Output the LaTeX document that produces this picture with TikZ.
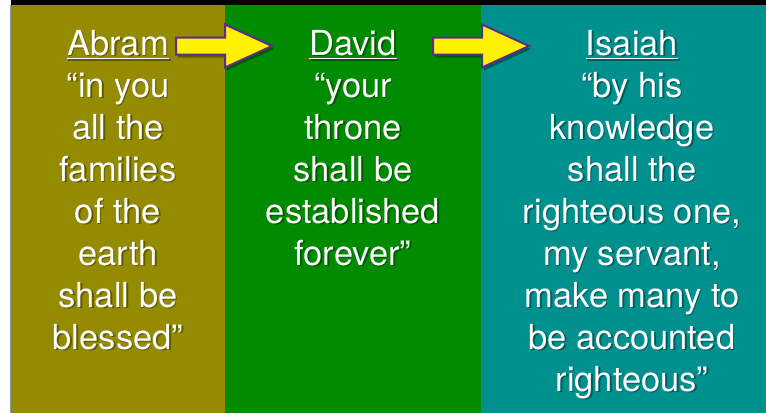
\documentclass[tikz,border=0pt]{standalone}
\usepackage{fontspec}
\setmainfont{TeX Gyre Heros}

\definecolor{abramcol}{HTML}{948B00}
\definecolor{davidcol}{HTML}{008B00}
\definecolor{isaiahcol}{HTML}{00908E}
\definecolor{arrowedge}{HTML}{5A2D8C}
\definecolor{edgeline}{HTML}{9096AE}

\tikzset{
  verse/.style={anchor=base, inner sep=0pt, text=white, font=\fontsize{34.5}{42}\selectfont},
  verseshadow/.style={verse, text=black, opacity=0.35},
  bigarrow/.pic={
    \path[fill=black, opacity=0.35, shift={(2,3)}]
      (0,-8.5) -- (49,-8.5) -- (49,-21.5) -- (96,0) -- (49,21.5) -- (49,8.5) -- (0,8.5) -- cycle;
    \draw[fill=yellow, draw=arrowedge, line width=2pt, line join=miter]
      (0,-8.5) -- (49,-8.5) -- (49,-21.5) -- (96,0) -- (49,21.5) -- (49,8.5) -- (0,8.5) -- cycle;
  }
}

\begin{document}
\begin{tikzpicture}[x=1pt,y=-1pt]
    \useasboundingbox (0,0) rectangle (766,413);
    \fill[white] (0,0) rectangle (766,413);
    \fill[black] (11,0) rectangle (766,5);
    \fill[abramcol] (11,5) rectangle (225,413);
    \fill[davidcol] (225,5) rectangle (481,413);
    \fill[isaiahcol] (481,5) rectangle (766,413);
    \draw[edgeline, line width=1pt] (10.5,5) -- (10.5,413);

    \foreach \t [count=\i from 0] in {Abram, “in you, all the, families, of the, earth, shall be, blessed”} {
        \node[verseshadow] at (119.5,56.5+42*\i) {\t};
        \node[verse] (abram\i) at (118,55+42*\i) {\t};
    }
    \foreach \t [count=\i from 0] in {David, “your, throne, shall be, established, forever”} {
        \node[verseshadow] at (354.5,56.5+42*\i) {\t};
        \node[verse] (david\i) at (353,55+42*\i) {\t};
    }
    \foreach \t [count=\i from 0] in {Isaiah, “by his, knowledge, shall the, {righteous one,}, {my servant,}, make many to, be accounted, righteous”} {
        \node[verseshadow] at (633.5,56.5+42*\i) {\t};
        \node[verse] (isaiah\i) at (632,55+42*\i) {\t};
    }

    \foreach \n in {abram0, david0, isaiah0} {
        \draw[black, opacity=0.35, line width=1.5pt] ([shift={(1.5pt,-5pt)}]\n.base west) -- ([shift={(1.5pt,-5pt)}]\n.base east);
        \draw[white, line width=1.5pt] ([yshift=-3.5pt]\n.base west) -- ([yshift=-3.5pt]\n.base east);
    }

    \pic at (176,46) {bigarrow};
    \pic at (433,46) {bigarrow};
\end{tikzpicture}
\end{document}
